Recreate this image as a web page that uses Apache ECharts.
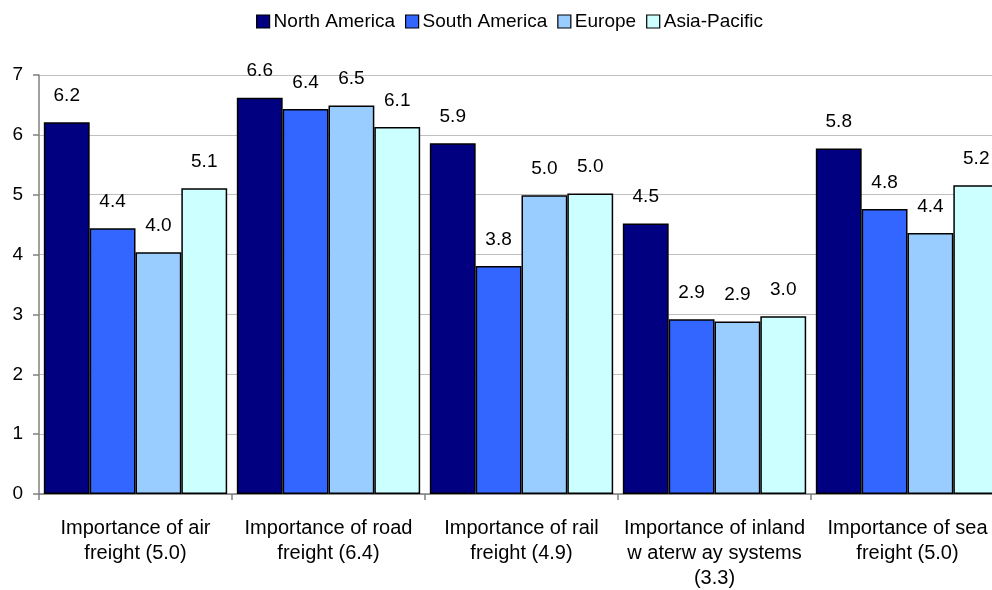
<!DOCTYPE html>
<html>
<head>
<meta charset="utf-8">
<script src="https://cdn.jsdelivr.net/npm/echarts@6/dist/echarts.min.js"></script>
<style>
html,body{margin:0;padding:0;background:#fff;}
#chart{width:992px;height:590px;}
</style>
</head>
<body>
<div id="chart"></div>
<script>
const categories = [
  "Importance of air\nfreight (5.0)",
  "Importance of road\nfreight (6.4)",
  "Importance of rail\nfreight (4.9)",
  "Importance of inland\nw aterw ay systems\n(3.3)",
  "Importance of sea\nfreight (5.0)"
];
const seriesNames = ["North America", "South America", "Europe", "Asia-Pacific"];
const northAmerica = [6.21, 6.62, 5.86, 4.52, 5.77];
const southAmerica = [4.44, 6.43, 3.81, 2.92, 4.76];
const europe = [4.04, 6.49, 4.99, 2.88, 4.36];
const asiaPacific = [5.11, 6.13, 5.02, 2.97, 5.16];
const colors = ["#000080", "#3366FF", "#99CCFF", "#CCFFFF"];
const yTicks = [0, 1, 2, 3, 4, 5, 6, 7];

const FONT = "'Liberation Sans', Arial, sans-serif";
const values = [northAmerica, southAmerica, europe, asiaPacific];

const chart = echarts.init(document.getElementById('chart'), null, {renderer: 'canvas'});
chart.setOption({
  animation: false,
  textStyle: {fontFamily: FONT},
  legend: {
    left: 251, top: 7,
    icon: 'rect', itemWidth: 13, itemHeight: 13, itemGap: 10,
    textStyle: {fontFamily: FONT, fontSize: 19, color: '#000', padding: [0, 0, 0, -1]},
    itemStyle: {borderColor: '#000', borderWidth: 1.2},
    data: seriesNames
  },
  grid: {left: 39, top: 75, width: 965, height: 419, containLabel: false, outerBoundsMode: 'none'},
  xAxis: {
    type: 'category',
    data: categories,
    axisLine: {lineStyle: {color: '#808080', width: 1.5}},
    axisTick: {show: true, length: 6, lineStyle: {color: '#808080', width: 1.5}},
    axisLabel: {fontFamily: FONT, fontSize: 20, color: '#000', margin: 22, lineHeight: 25, interval: 0}
  },
  yAxis: {
    type: 'value', min: yTicks[0], max: yTicks[yTicks.length - 1], interval: 1,
    axisLine: {show: true, lineStyle: {color: '#808080', width: 1.5}},
    axisTick: {show: true, length: 6, lineStyle: {color: '#808080', width: 1.5}},
    axisLabel: {fontFamily: FONT, fontSize: 19, color: '#000', margin: 16},
    splitLine: {lineStyle: {color: '#c0c0c0', width: 1}}
  },
  series: seriesNames.map((name, i) => ({
    name: name,
    type: 'bar',
    data: values[i],
    barGap: '0%',
    barCategoryGap: '5%',
    itemStyle: {color: colors[i], borderColor: '#000', borderWidth: 1.5},
    label: {
      show: true, position: 'top', distance: 17,
      fontFamily: FONT, fontSize: 19, color: '#000',
      formatter: p => p.value.toFixed(1)
    }
  }))
});
</script>
</body>
</html>
